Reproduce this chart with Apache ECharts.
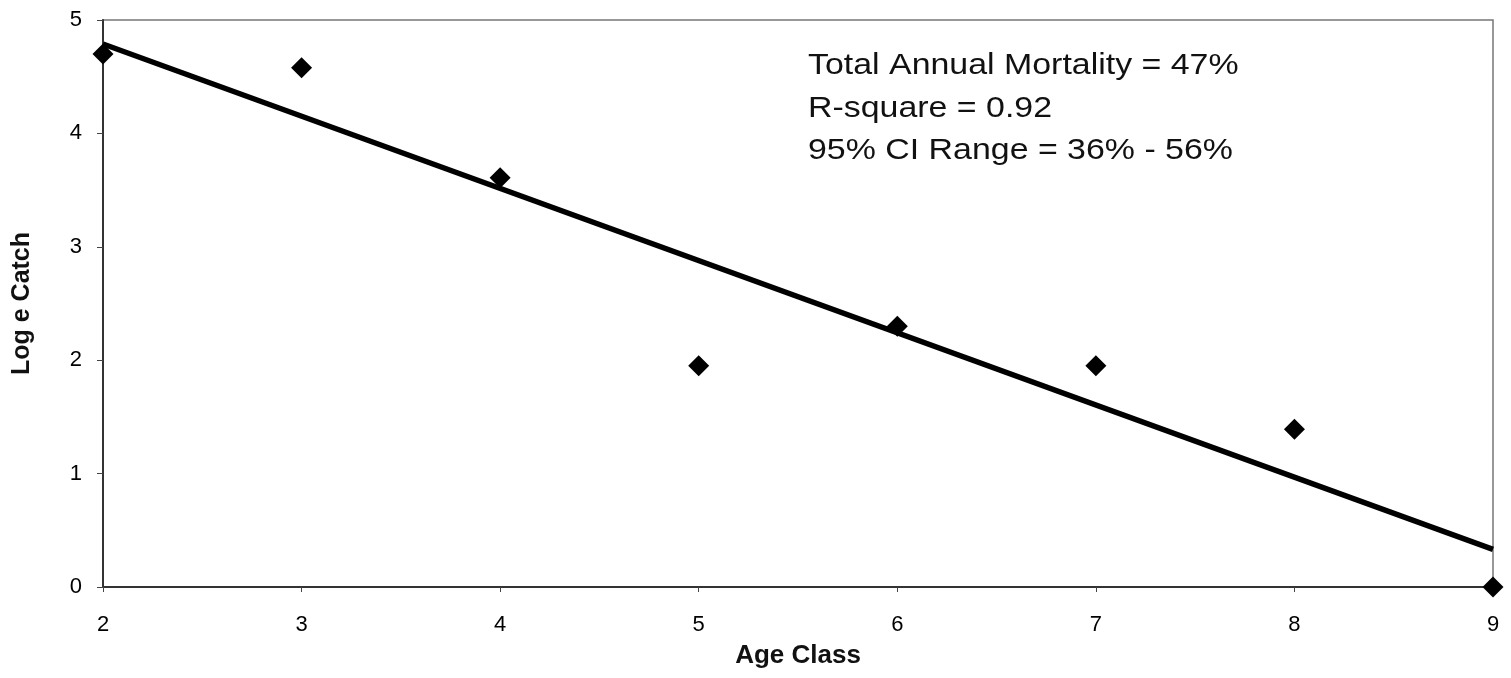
<!DOCTYPE html>
<html>
<head>
<meta charset="utf-8">
<script src="https://cdn.jsdelivr.net/npm/echarts@6/dist/echarts.min.js"></script>
<style>
  html, body { margin: 0; padding: 0; background: #fff; }
  #chart { width: 1511px; height: 678px; }
</style>
</head>
<body>
<div id="chart"></div>
<script>
// Catch-curve: log of catch per age class
const ageClasses = [2, 3, 4, 5, 6, 7, 8, 9];
const logCatch = [4.70, 4.58, 3.61, 1.95, 2.30, 1.95, 1.39, 0.0];
const yTicks = [0, 1, 2, 3, 4, 5];
const xTicks = [2, 3, 4, 5, 6, 7, 8, 9];
const statsLines = [
  'Total Annual Mortality = 47%',
  'R-square = 0.92',
  '95% CI Range = 36% - 56%'
];

// least-squares regression line through the catch points
const n = ageClasses.length;
const mx = ageClasses.reduce((a, b) => a + b, 0) / n;
const my = logCatch.reduce((a, b) => a + b, 0) / n;
let sxy = 0, sxx = 0;
for (let i = 0; i < n; i++) {
  sxy += (ageClasses[i] - mx) * (logCatch[i] - my);
  sxx += (ageClasses[i] - mx) ** 2;
}
const slope = sxy / sxx;
const intercept = my - slope * mx;
const xFirst = ageClasses[0], xLast = ageClasses[n - 1];
const trend = [[xFirst, intercept + slope * xFirst], [xLast, intercept + slope * xLast]];

const font = 'Arial, "Liberation Sans", Helvetica, sans-serif';
const chart = echarts.init(document.getElementById('chart'));
chart.setOption({
  animation: false,
  grid: {
    left: 103, right: 18, top: 20, bottom: 91,
    containLabel: false, outerBoundsMode: 'none',
    show: true, borderColor: '#777', borderWidth: 1.5, backgroundColor: '#fff'
  },
  xAxis: {
    type: 'value',
    min: xTicks[0], max: xTicks[xTicks.length - 1], interval: 1,
    name: 'Age Class', nameLocation: 'middle', nameGap: 56,
    nameTextStyle: { fontFamily: font, fontWeight: 'bold', fontSize: 26, color: '#111' },
    axisLine: { show: true, lineStyle: { color: '#333', width: 2 } },
    axisTick: { show: true, inside: false, length: 5, lineStyle: { color: '#444', width: 1 } },
    axisLabel: { fontFamily: font, fontSize: 22, color: '#000', margin: 27 },
    splitLine: { show: false }
  },
  yAxis: {
    type: 'value',
    min: yTicks[0], max: yTicks[yTicks.length - 1], interval: 1,
    name: 'Log e Catch', nameLocation: 'middle', nameGap: 68,
    nameTextStyle: { fontFamily: font, fontWeight: 'bold', fontSize: 25, color: '#111' },
    axisLine: { show: true, lineStyle: { color: '#333', width: 2 } },
    axisTick: { show: true, inside: false, length: 6, lineStyle: { color: '#444', width: 1 } },
    axisLabel: { fontFamily: font, fontSize: 22, color: '#000', margin: 21 },
    splitLine: { show: false }
  },
  graphic: statsLines.map((t, i) => ({
    type: 'text', x: 808, y: 66 + i * 42.5, scaleX: 1.13, z: 10,
    style: { text: t, font: '30px ' + font, fill: '#111', verticalAlign: 'middle', align: 'left' }
  })),
  series: [
    {
      type: 'line', data: trend, showSymbol: false, symbol: 'none',
      lineStyle: { color: '#000', width: 5.5 }, z: 2
    },
    {
      type: 'scatter', data: ageClasses.map((a, i) => [a, logCatch[i]]),
      symbol: 'diamond', symbolSize: [21, 21],
      itemStyle: { color: '#000', opacity: 1 }, z: 3
    }
  ]
});
</script>
</body>
</html>
